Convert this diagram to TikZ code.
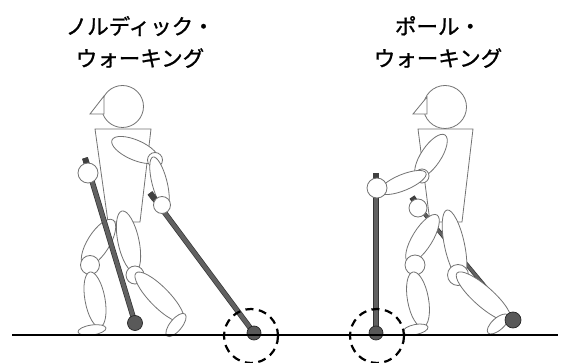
\documentclass[tikz,border=0pt]{standalone}
\usepackage{fontspec}
\usepackage{tikz}
\usetikzlibrary{calc, shapes.geometric}

\newfontfamily\jpfont[FakeBold=1.2]{Noto Sans CJK JP}

% limb: an ellipse stretched between two end points, #3 = thickness
\newcommand{\limb}[3]{%
  \path let \p1=#1, \p2=#2,
    \n1={atan2(\y2-\y1,\x2-\x1)},
    \n2={veclen(\x2-\x1,\y2-\y1)} in
    ($(\p1)!0.5!(\p2)$) node[limbpart, minimum width=\n2, minimum height=#3, rotate=\n1] {};}

\begin{document}
\begin{tikzpicture}[x=1pt, y=-1pt,
		body/.style={draw=black!55, fill=white, line width=0.8pt},
		limbpart/.style={body, ellipse, inner sep=0pt, outer sep=0pt},
		pole/.style={draw=black!80, double=black!62, double distance=4pt, line width=0.7pt},
		thinpole/.style={pole, double distance=2.6pt},
		grip/.style={draw=black!75, line width=6pt},
		tipball/.style={draw=black!85, fill=black!65, line width=0.7pt},
		tipmark/.style={draw=black, line width=2.2pt, dash pattern=on 8pt off 5.5pt},
		ground/.style={draw=black, line width=2.2pt},
		title/.style={font=\jpfont\fontsize{21.5}{32}\selectfont, align=center}]
	\useasboundingbox (0,0) rectangle (564,363);

	% Titles
	\node[title] (ndwtitle) at (140,42) {ノルディック・\\ウォーキング};
	\node[title] (pwtitle) at (438,42) {ポール・\\ウォーキング};

	% ---------- Nordic walking ----------
	% torso
	\draw[body] (95,129) -- (151,129) -- (140,222) -- (108,222) -- cycle;
	% back leg
	\limb{(113,220)}{(84,266)}{22}
	\draw[body] (90,265) circle (9.5);
	\limb{(90,272)}{(100,327)}{20}
	\limb{(78,332)}{(106,328)}{10}
	% far pole and hand
	\draw[pole] (85,158) -- (135,323);
	\draw[grip] (85,158) -- (87.3,165.6);
	\draw[tipball] (135,323) circle (7.5);
	\draw[body] (88,173) circle (10);
	% front leg
	\limb{(122,211)}{(135,272)}{21}
	\draw[body] (135,275) circle (9);
	\limb{(136,273)}{(183,321)}{20}
	\limb{(167,336)}{(185,314)}{12}
	% near arm
	\limb{(112,140)}{(158,160)}{20}
	\draw[body] (155,160) circle (7.5);
	\limb{(153,157)}{(166,208)}{15}
	% near pole and hand
	\draw[pole] (150,193) -- (254,333);
	\draw[grip] (150,193) -- (154.8,199.4);
	\draw[tipball] (254,333) circle (7);
	\draw[body] (162,205) circle (8.5);
	% head
	\draw[body] (122.5,106.5) circle (21);
	\draw[body] (90,114) -- (104,96) -- (104,114) -- cycle;
	% contact point
	\draw[tipmark] (251,336) circle (27);

	% ---------- Pole walking ----------
	% far pole, hidden behind the legs
	\draw[thinpole] (413,200) -- (513,320);
	\draw[grip] (412,197) -- (416,203);
	% torso
	\draw[body] (418,129) -- (473,129) -- (462,222) -- (430,222) -- cycle;
	\draw[body] (418,208) circle (9);
	% standing leg
	\limb{(437,215)}{(408,262)}{20}
	\draw[body] (415,265) circle (10);
	\limb{(413,272)}{(423,327)}{21}
	\limb{(403,332)}{(428,327)}{10}
	% trailing leg
	\limb{(447,210)}{(462,280)}{20}
	\draw[body] (458,275) circle (10.5);
	\limb{(457,273)}{(510,320)}{20}
	\limb{(488,333)}{(508,315)}{12}
	\draw[tipball] (513,320) circle (8);
	% near arm
	\limb{(445,135)}{(417,177)}{20}
	\draw[body] (422,176) circle (7);
	\limb{(380,192)}{(426,173)}{16}
	% upright pole and hand
	\draw[pole] (376,174) -- (376,333);
	\draw[grip] (376,173) -- (376,180);
	\draw[tipball] (376,333) circle (7);
	\draw[body] (377,188) circle (10);
	% head
	\draw[body] (445,107) circle (21.5);
	\draw[body] (413,114) -- (427,97) -- (427,114) -- cycle;
	% contact point
	\draw[tipmark] (377,336) circle (27);

	% ground
	\draw[ground] (12,335) -- (558,335);
\end{tikzpicture}
\end{document}
